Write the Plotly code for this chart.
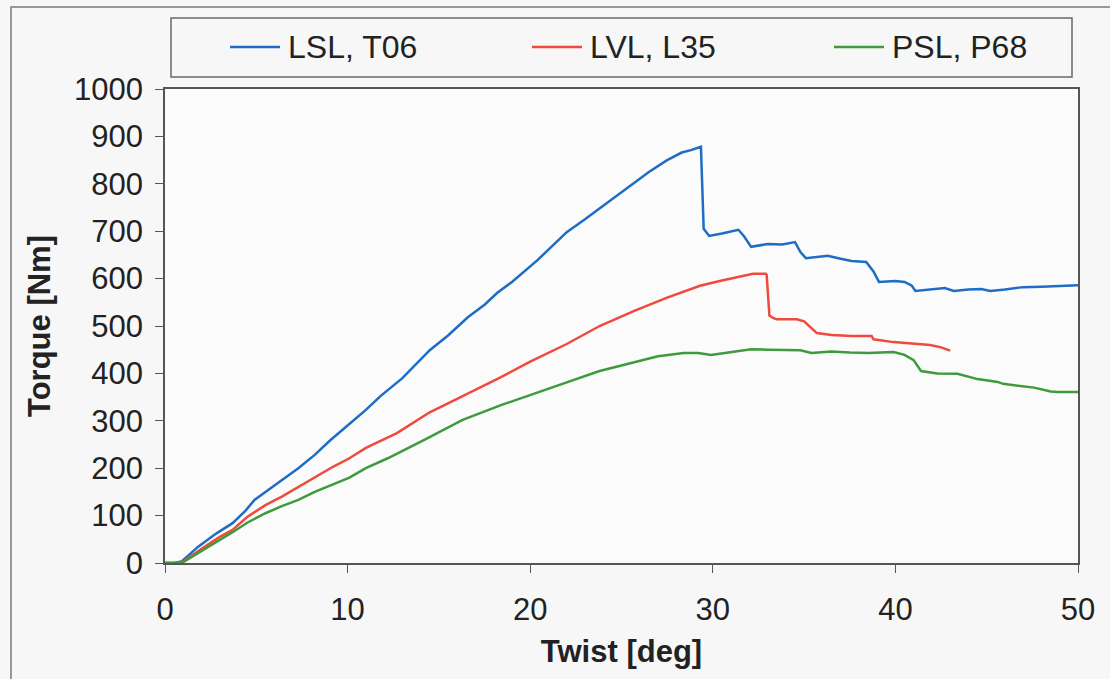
import plotly.graph_objects as go

# ---------------- data ----------------
series_names = ["LSL, T06", "LVL, L35", "PSL, P68"]

lsl_twist = [0, 0.5, 0.9, 1.8, 2.8, 3.7, 4.4, 4.9, 5.5, 6.3, 7.3, 8.2, 9.05, 10.0, 11.0, 11.8,
             13.0, 14.5, 15.5, 16.6, 17.5, 18.2, 19.0, 20.4, 21.2, 22.0, 23.0, 23.85, 24.8, 25.7,
             26.5, 27.5, 28.3, 28.8, 29.3, 29.35, 29.5, 29.8, 30.5, 31.1, 31.4, 31.7, 32.1, 33.0,
             33.8, 34.5, 34.8, 35.1, 36.3, 37.0, 37.6, 38.4, 38.8, 39.1, 40.0, 40.5, 40.9, 41.1,
             42.0, 42.7, 43.2, 44.0, 44.7, 45.2, 46.0, 47.0, 48.0, 49.0, 50.0]
lsl_torque = [0, 0, 3, 34, 62, 84, 110, 133, 150, 172, 200, 228, 259, 290, 323, 352,
              390, 449, 480, 519, 545, 570, 593, 639, 668, 698, 725, 749, 776, 801,
              825, 850, 866, 871, 878, 878, 705, 690, 695, 700, 703, 690, 667, 673,
              672, 677, 656, 643, 648, 642, 637, 635, 615, 593, 595, 593, 585, 574,
              577, 580, 574, 577, 578, 574, 577, 582, 583, 585, 586]

lvl_twist = [0, 0.5, 1.0, 2.0, 3.0, 3.7, 4.5, 5.5, 6.4, 7.3, 8.2, 9.2, 10.1, 11.0, 12.7, 14.5,
             16.3, 18.4, 20.0, 21.1, 22.0, 23.8, 25.7, 27.5, 29.3, 30.5, 31.5, 32.2, 32.9, 32.95,
             33.1, 33.3, 33.5, 34.6, 35.0, 35.7, 36.5, 37.6, 38.7, 38.8, 39.9, 41.2, 41.9, 42.5,
             43.0]
lvl_torque = [0, 0, 3, 30, 55, 70, 97, 122, 140, 160, 180, 203, 221, 243, 274, 318,
              352, 392, 425, 446, 462, 500, 532, 560, 585, 596, 605, 610, 610, 608,
              522, 517, 514, 514, 510, 485, 481, 479, 479, 472, 466, 462, 460, 455,
              448]

psl_twist = [0, 0.6, 1.0, 2.0, 3.0, 3.7, 4.5, 5.5, 6.4, 7.3, 8.2, 9.2, 10.1, 11.0, 12.2, 14.2,
             16.3, 18.4, 20.0, 21.1, 22.0, 23.8, 25.7, 27.0, 28.4, 29.2, 29.9, 31.0, 32.1, 33.0,
             34.8, 35.4, 36.5, 37.5, 38.5, 39.9, 40.5, 41.0, 41.4, 42.3, 43.4, 44.5, 45.6, 45.9,
             46.8, 47.6, 48.5, 48.9, 50.0]
psl_torque = [0, 0, 2, 25, 48, 65, 85, 105, 120, 133, 150, 165, 180, 200, 221, 260,
              302, 333, 355, 369, 381, 405, 424, 436, 443, 443, 439, 445, 451, 450,
              449, 443, 446, 444, 443, 445, 439, 428, 405, 400, 399, 388, 382, 378,
              374, 370, 362, 361, 361]

x_ticks = [0, 10, 20, 30, 40, 50]
y_ticks = [0, 100, 200, 300, 400, 500, 600, 700, 800, 900, 1000]

colors = ["#1f6cc4", "#ef4a3c", "#3d9a3d"]

# ---------------- layout geometry (pixels) ----------------
W, H = 1110, 679
PL, PR, PT, PB = 165, 1078, 89, 563


def px_x(p):
    return (p - PL) / (PR - PL)


def px_y(p):
    return (PB - p) / (PB - PT)


FONT = "Liberation Sans, Arial, Helvetica, sans-serif"

fig = go.Figure()
for name, xs, ys, c in zip(series_names,
                           [lsl_twist, lvl_twist, psl_twist],
                           [lsl_torque, lvl_torque, psl_torque],
                           colors):
    fig.add_trace(go.Scatter(x=xs, y=ys, mode="lines", name=name,
                             line=dict(color=c, width=2.5), showlegend=False))

shapes = []
annotations = []
# outer chart border
shapes.append(dict(type="rect", xref="paper", yref="paper",
                   x0=px_x(11), x1=px_x(1125), y0=px_y(7), y1=px_y(700),
                   line=dict(color="#7a7a7a", width=1.5), fillcolor="rgba(0,0,0,0)", layer="below"))
# legend box
shapes.append(dict(type="rect", xref="paper", yref="paper",
                   x0=px_x(171), x1=px_x(1072), y0=px_y(18), y1=px_y(77),
                   line=dict(color="#6a6a6a", width=1.5), fillcolor="rgba(0,0,0,0)"))
leg_y = px_y(47)
for i, (name, c) in enumerate(zip(series_names, colors)):
    x0 = 230 + i * 302
    shapes.append(dict(type="line", xref="paper", yref="paper",
                       x0=px_x(x0), x1=px_x(x0 + 50), y0=leg_y, y1=leg_y,
                       line=dict(color=c, width=2.5)))
    annotations.append(dict(xref="paper", yref="paper", x=px_x(x0 + 56), y=leg_y,
                            text=name, showarrow=False, xanchor="left", yanchor="middle",
                            font=dict(family=FONT, size=32, color="#222222")))

fig.update_layout(
    width=W, height=H,
    margin=dict(l=PL, r=W - PR, t=PT, b=H - PB),
    paper_bgcolor="#f7f7f7",
    plot_bgcolor="#fbfbfb",
    font=dict(family=FONT, size=31, color="#222222"),
    showlegend=False,
    shapes=shapes,
    annotations=annotations,
    xaxis=dict(range=[0, 50], tickvals=x_ticks, ticks="outside", ticklen=8,
               tickcolor="#555555", showline=True, linecolor="#555555", linewidth=1.5,
               mirror=True, showgrid=False, zeroline=False,
               tickfont=dict(family=FONT, size=31, color="#222222"),
               ticklabelstandoff=10,
               title=dict(text="<b>Twist [deg]</b>", standoff=14,
                          font=dict(family=FONT, size=31, color="#222222"))),
    yaxis=dict(range=[0, 1000], tickvals=y_ticks, ticks="outside", ticklen=8,
               tickcolor="#555555", showline=True, linecolor="#555555", linewidth=1.5,
               mirror=True, showgrid=False, zeroline=False,
               tickfont=dict(family=FONT, size=31, color="#222222"),
               ticklabelstandoff=6,
               title=dict(text="<b>Torque [Nm]</b>", standoff=14,
                          font=dict(family=FONT, size=31, color="#222222"))),
)

fig.write_html("out.html")
